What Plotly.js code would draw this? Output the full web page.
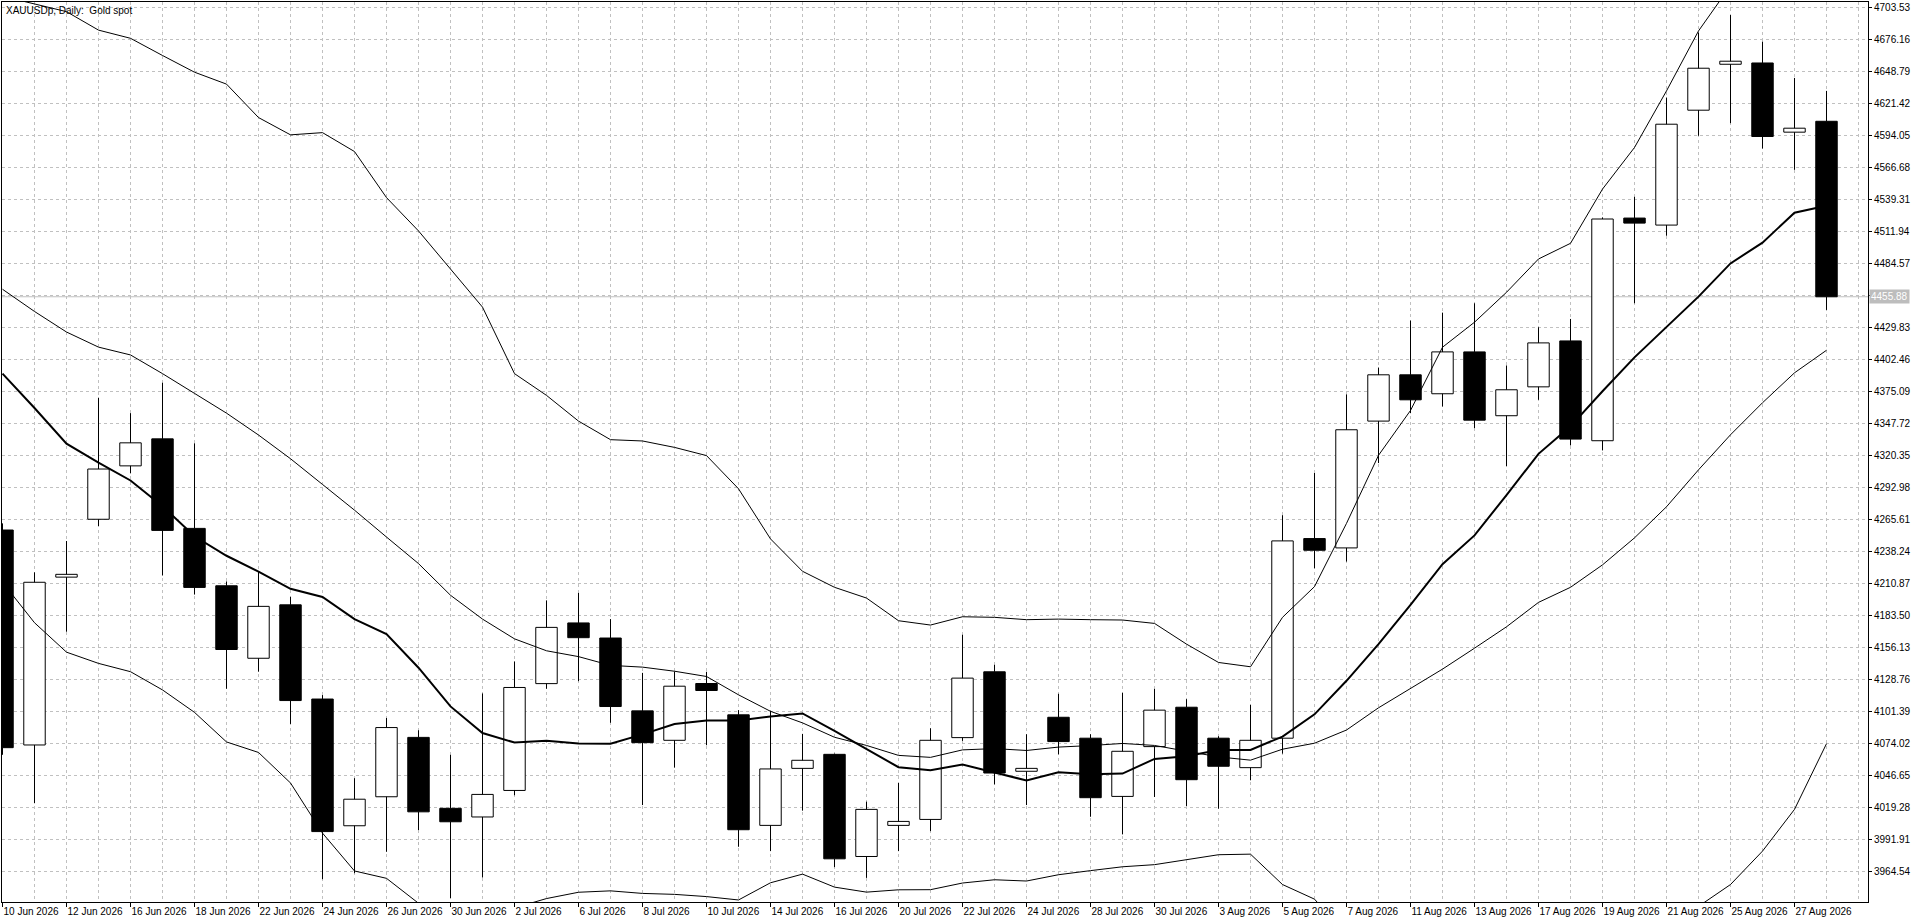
<!DOCTYPE html>
<html><head><meta charset="utf-8">
<script src="https://cdn.plot.ly/plotly-3.0.1.min.js"></script>
<style>html,body{margin:0;padding:0;background:#fff;overflow:hidden}#chart{width:1920px;height:923px}</style>
</head><body><div id="chart"></div>
<script>
const chartTitle = 'XAUUSDp, Daily:\u00a0 Gold spot';

const dates = ['10 Jun 2026','11 Jun 2026','12 Jun 2026','15 Jun 2026','16 Jun 2026','17 Jun 2026','18 Jun 2026','19 Jun 2026',
'22 Jun 2026','23 Jun 2026','24 Jun 2026','25 Jun 2026','26 Jun 2026','29 Jun 2026','30 Jun 2026','1 Jul 2026','2 Jul 2026',
'3 Jul 2026','6 Jul 2026','7 Jul 2026','8 Jul 2026','9 Jul 2026','10 Jul 2026','13 Jul 2026','14 Jul 2026','15 Jul 2026',
'16 Jul 2026','17 Jul 2026','20 Jul 2026','21 Jul 2026','22 Jul 2026','23 Jul 2026','24 Jul 2026','27 Jul 2026','28 Jul 2026',
'29 Jul 2026','30 Jul 2026','31 Jul 2026','3 Aug 2026','4 Aug 2026','5 Aug 2026','6 Aug 2026','7 Aug 2026','10 Aug 2026',
'11 Aug 2026','12 Aug 2026','13 Aug 2026','14 Aug 2026','17 Aug 2026','18 Aug 2026','19 Aug 2026','20 Aug 2026','21 Aug 2026',
'24 Aug 2026','25 Aug 2026','26 Aug 2026','27 Aug 2026','28 Aug 2026'];

const openP = [4256.3,4072.4,4216.0,4265.5,4311.2,4334.3,4257.7,4208.6,4146.6,4192.3,4111.7,4003.3,4028.1,4078.9,4018.2,4010.8,
4033.5,4124.9,4176.8,4163.9,4101.6,4076.4,4125.0,4098.2,4003.6,4052.4,4064.4,3977.0,4003.6,4008.7,4078.7,4135.0,4049.9,4096.1,
4078.2,4028.4,4071.0,4104.7,4078.2,4053.0,4078.2,4249.0,4241.0,4349.5,4389.1,4372.9,4408.7,4354.1,4378.8,4418.1,4332.7,4523.2,
4517.2,4615.5,4654.8,4655.9,4596.7,4606.0];
const highP = [4262.0,4220.1,4246.9,4369.5,4356.3,4382.3,4330.5,4212.3,4220.8,4199.1,4115.1,4044.0,4095.5,4085.0,4064.0,4116.5,
4143.9,4196.1,4202.5,4180.1,4134.1,4135.3,4135.0,4102.2,4101.6,4081.9,4065.0,4023.9,4039.9,4086.7,4166.7,4141.0,4081.6,4116.2,
4081.6,4117.0,4120.4,4111.6,4079.9,4106.7,4269.0,4305.1,4372.3,4395.3,4435.5,4442.3,4450.3,4397.1,4429.8,4436.9,4523.8,4541.4,
4626.3,4681.9,4696.9,4674.2,4643.1,4632.0];
const lowP = [4064.0,4022.6,4169.3,4259.7,4304.8,4217.4,4201.1,4120.5,4135.1,4090.4,3957.6,3962.7,3981.0,3999.6,3941.4,3959.0,
4029.4,4120.5,4127.0,4091.4,4021.0,4053.0,4072.2,3985.3,3981.6,4016.2,3967.9,3958.7,3981.6,3998.7,4075.9,4038.7,4021.0,4064.4,
4011.0,3995.9,4027.9,4020.2,4017.9,4042.2,4065.0,4223.6,4229.3,4313.6,4356.3,4362.0,4343.5,4311.0,4367.7,4328.7,4324.4,4450.3,
4508.1,4593.6,4604.4,4582.7,4564.5,4444.6];
const closeP = [4070.1,4211.6,4218.4,4308.5,4330.9,4256.0,4207.2,4154.1,4191.0,4110.4,3998.3,4026.0,4087.3,4015.2,4006.7,4030.1,
4121.6,4173.0,4164.2,4105.3,4074.4,4122.7,4119.0,3999.9,4051.9,4059.3,3975.0,4017.3,4007.0,4076.4,4129.6,4048.4,4052.4,4075.3,
4027.3,4067.0,4102.2,4042.7,4054.2,4076.4,4247.0,4239.0,4342.1,4389.1,4367.7,4408.7,4350.3,4376.3,4416.4,4334.1,4522.4,4518.9,
4603.5,4651.4,4657.4,4593.0,4600.1,4455.88];

const ma10 = [4390.1,4360.7,4330.2,4313.9,4298.7,4276.7,4251.0,4234.3,4220.8,4206.0,4199.0,4180.1,4167.3,4138.5,4105.4,4082.6,
4074.5,4076.1,4073.7,4073.5,4081.5,4090.4,4093.4,4093.4,4096.8,4099.4,4084.4,4068.8,4053.4,4050.8,4055.7,4048.9,4042.0,4049.0,
4047.4,4047.9,4060.5,4062.8,4068.0,4068.2,4079.6,4098.6,4127.3,4158.7,4192.2,4227.1,4251.7,4286.2,4321.5,4345.0,4375.0,4404.0,
4430.0,4456.0,4484.4,4502.2,4527.8,4533.8];
const bbMid = [4462.3,4443.3,4425.7,4412.8,4406.1,4390.1,4373.2,4356.3,4337.6,4317.3,4295.3,4273.3,4250.3,4227.6,4200.5,4180.1,
4163.2,4153.0,4148.0,4140.5,4139.0,4135.5,4131.0,4115.3,4101.2,4091.3,4079.0,4072.0,4063.5,4061.8,4068.2,4069.3,4067.7,4070.6,
4071.9,4073.7,4072.0,4067.3,4062.2,4059.4,4068.8,4073.9,4085.2,4104.2,4120.7,4137.3,4155.2,4173.5,4194.4,4207.3,4226.5,4249.6,
4276.2,4307.8,4337.8,4365.2,4390.8,4410.1];
const bbUpper = [4713.0,4706.5,4699.8,4684.0,4677.0,4662.3,4648.0,4637.8,4609.2,4594.4,4596.3,4580.1,4540.7,4512.2,4480.0,4447.0,
4390.1,4371.5,4349.5,4333.6,4332.5,4327.0,4320.0,4291.6,4248.7,4221.0,4207.3,4198.1,4178.7,4175.0,4182.1,4181.6,4179.6,4180.1,
4179.6,4179.3,4176.4,4158.7,4143.0,4139.3,4181.6,4207.9,4262.0,4320.2,4358.6,4412.7,4434.1,4459.7,4488.2,4501.6,4548.0,4583.6,
4632.0,4683.3,4722.0,4749.0,4765.0,4747.0];
const bbLower = [4211.6,4177.0,4151.8,4142.2,4135.1,4119.5,4100.3,4075.0,4066.0,4039.9,3997.0,3964.6,3958.3,3937.0,3921.0,3913.2,
3933.0,3941.0,3946.4,3947.6,3945.4,3944.6,3942.7,3939.8,3954.5,3961.9,3950.8,3946.5,3948.5,3948.6,3954.3,3957.1,3956.0,3961.4,
3964.9,3968.2,3970.0,3974.0,3978.5,3979.0,3953.0,3940.5,3909.8,3888.6,3884.6,3861.9,3874.7,3886.3,3900.6,3913.0,3903.8,3913.8,
3916.8,3934.3,3953.0,3981.6,4017.3,4073.5];

const yTickLabels = ['4703.53','4676.16','4648.79','4621.42','4594.05','4566.68','4539.31','4511.94','4484.57','4457.20',
'4429.83','4402.46','4375.09','4347.72','4320.35','4292.98','4265.61','4238.24','4210.87','4183.50','4156.13','4128.76',
'4101.39','4074.02','4046.65','4019.28','3991.91','3964.54'];

const FONT = 'Liberation Sans, Arial, sans-serif';
const GRID = '#c0c0c0';
const idx = dates.map((d, i) => i);
const lastPrice = closeP[closeP.length - 1];

const bodyBase = idx.map(i => Math.min(openP[i], closeP[i]));
const bodyLen = idx.map(i => Math.max(Math.abs(closeP[i] - openP[i]), 0.3));
const bodyCol = idx.map(i => closeP[i] >= openP[i] ? '#ffffff' : '#000000');

const wx = [], wy = [];
idx.forEach(i => {
  const top = Math.max(openP[i], closeP[i]), bot = Math.min(openP[i], closeP[i]);
  wx.push(i, i, null, i, i, null);
  wy.push(highP[i], top, null, bot, lowP[i], null);
});

const traces = [
  {type: 'bar', x: idx, y: bodyLen, base: bodyBase, width: 0.67,
   marker: {color: bodyCol, line: {color: '#000', width: 1}}, showlegend: false, hoverinfo: 'skip'},
  {type: 'scatter', mode: 'lines', x: wx, y: wy, line: {color: '#000', width: 1}, showlegend: false, hoverinfo: 'skip'},
  {type: 'scatter', mode: 'lines', x: idx, y: bbUpper, line: {color: '#000', width: 1}, showlegend: false, hoverinfo: 'skip'},
  {type: 'scatter', mode: 'lines', x: idx, y: bbMid, line: {color: '#000', width: 1}, showlegend: false, hoverinfo: 'skip'},
  {type: 'scatter', mode: 'lines', x: idx, y: bbLower, line: {color: '#000', width: 1}, showlegend: false, hoverinfo: 'skip'},
  {type: 'scatter', mode: 'lines', x: idx, y: ma10, line: {color: '#000', width: 2}, showlegend: false, hoverinfo: 'skip'}
];

const xTickVals = idx.filter(i => i % 2 === 0);
const xTickText = xTickVals.map(i => dates[i]);
const yTickVals = yTickLabels.map(Number);
const yTickText = yTickLabels.map(t => Math.abs(Number(t) - lastPrice) < 5 ? '' : t);

const layout = {
  width: 1920, height: 923,
  margin: {l: 2, r: 52, t: 2, b: 21, pad: 0},
  paper_bgcolor: '#fff', plot_bgcolor: '#fff',
  showlegend: false, hovermode: false, bargap: 0, barmode: 'overlay',
  font: {family: FONT, size: 10, color: '#000'},
  xaxis: {
    range: [-0.0156, 58.297], autorange: false,
    tickmode: 'array', tickvals: xTickVals, ticktext: xTickText, tickangle: 0,
    ticks: 'outside', ticklen: 4, tickcolor: '#000', tickwidth: 1,
    ticklabelposition: 'outside right',
    tickfont: {family: FONT, size: 10, color: '#000'},
    showgrid: true, gridcolor: GRID, griddash: '3px,3px', gridwidth: 1,
    minor: {tick0: 0, dtick: 1, showgrid: true, gridcolor: GRID, griddash: '3px,3px', gridwidth: 1, ticks: ''},
    showline: true, linecolor: '#000', linewidth: 1, mirror: true,
    zeroline: false, fixedrange: true
  },
  yaxis: {
    side: 'right', range: [3938.06, 4708.06], autorange: false,
    tickmode: 'array', tickvals: yTickVals, ticktext: yTickText,
    ticks: 'outside', ticklen: 3, tickcolor: '#000', tickwidth: 1,
    tickfont: {family: FONT, size: 10, color: '#000'},
    showgrid: true, gridcolor: GRID, griddash: '3px,3px', gridwidth: 1,
    showline: true, linecolor: '#000', linewidth: 1, mirror: true,
    zeroline: false, fixedrange: true
  },
  shapes: [
    {type: 'line', xref: 'paper', x0: 0, x1: 1, yref: 'y', y0: lastPrice, y1: lastPrice,
     line: {color: '#c0c0c0', width: 1}, layer: 'below'}
  ],
  annotations: [
    {text: chartTitle, xref: 'paper', yref: 'paper', x: 0, y: 1, xanchor: 'left', yanchor: 'top',
     xshift: 2, yshift: -1, showarrow: false, font: {family: FONT, size: 10, color: '#000'}},
    {text: lastPrice.toFixed(2), xref: 'paper', yref: 'y', x: 1, y: lastPrice, xanchor: 'left', yanchor: 'middle',
     xshift: 1, showarrow: false, bgcolor: '#bdbdbd', borderpad: 1,
     font: {family: FONT, size: 10, color: '#ffffff'}}
  ]
};

Plotly.newPlot('chart', traces, layout, {displayModeBar: false, staticPlot: true});
</script></body></html>
